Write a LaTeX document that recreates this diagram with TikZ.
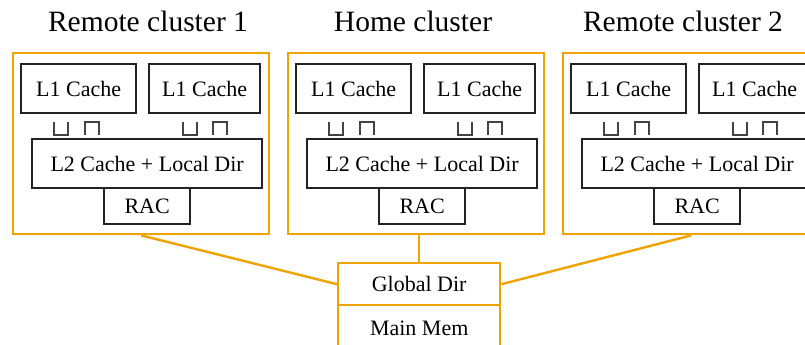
\documentclass[tikz,border=0pt]{standalone}
\usepackage{fontspec}
\setmainfont{Liberation Serif}

\definecolor{clusterorange}{RGB}{238,163,0}
\definecolor{boxgray}{RGB}{34,34,34}

\tikzset{
    cluster/.style={draw=clusterorange, line width=2.4pt, minimum width=256pt, minimum height=181pt, inner sep=0pt, anchor=north west},
    unit/.style={draw=boxgray, line width=2.3pt, inner sep=0pt, anchor=north west, font=\fontsize{22}{26}\selectfont},
    title/.style={anchor=base, inner sep=0pt, font=\fontsize{29.5}{34}\selectfont},
    bus/.style={draw=boxgray!85, line width=2.3pt},
    link/.style={draw=clusterorange, line width=2.4pt}
}

\begin{document}
\begin{tikzpicture}[x=1pt, y=-1pt]
    \clip (0,0) rectangle (805,345);

    % three clusters side by side
    \foreach \x/\n/\t/\tx in {12/rca/Remote cluster 1/148, 287/home/Home cluster/413, 562/rcb/Remote cluster 2/683}{
        \node [cluster] (\n) at (\x, 52) {};
        \node [title] (\n-title) at (\tx, 32) {\t};
        \node [unit, minimum width=115pt, minimum height=49pt] (\n-l1a) at (\x+8, 63) {L1 Cache};
        \node [unit, minimum width=111pt, minimum height=49pt] (\n-l1b) at (\x+136, 63) {L1 Cache};
        \node [unit, minimum width=230pt, minimum height=49pt] (\n-l2) at (\x+19, 138) {L2 Cache + Local Dir};
        \node [unit, minimum width=86pt, minimum height=36pt] (\n-rac) at (\x+91, 187) {RAC};
        \foreach \s in {42, 171}{
            \draw [bus] (\x+\s, 122) -- (\x+\s, 135) -- (\x+\s+14, 135) -- (\x+\s+14, 122);
        }
        \foreach \s in {73, 201}{
            \draw [bus] (\x+\s, 135) -- (\x+\s, 122) -- (\x+\s+14, 122) -- (\x+\s+14, 135);
        }
    }

    \node [unit, draw=clusterorange, line width=2.4pt, minimum width=162pt, minimum height=42pt] (gdir) at (337, 262) {Global Dir};
    \node [unit, draw=clusterorange, line width=2.4pt, minimum width=162pt, minimum height=46pt] (mmem) at (337, 304) {Main Mem};

    \draw [link] (rca.south) -- (gdir.west);
    \draw [link] (gdir.north |- home.south) -- (gdir.north);
    \draw [link] (rcb.south) -- (gdir.east);
\end{tikzpicture}
\end{document}
